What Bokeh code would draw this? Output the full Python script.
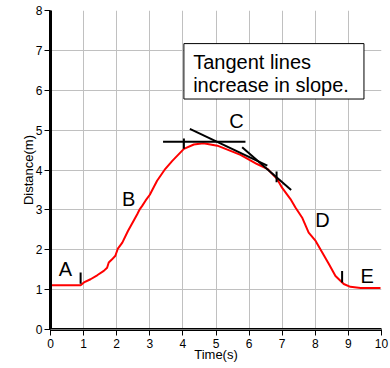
from bokeh.plotting import figure
from bokeh.models import FixedTicker, Range1d, Span, ColumnDataSource
from bokeh.core.properties import value
from bokeh.embed import file_html
from bokeh.resources import INLINE

# ---- data ----
time_s = [0, 0.91, 1.01, 1.21, 1.41, 1.61, 1.71, 1.76, 1.86, 1.96, 2.03, 2.17,
          2.34, 2.52, 2.62, 2.70, 2.77, 2.87, 3.0, 3.22, 3.47, 3.68, 4.03, 4.33,
          4.62, 5.04, 5.44, 5.74, 6.24, 6.55, 6.85, 7.0, 7.25, 7.40, 7.60, 7.80,
          8.01, 8.21, 8.41, 8.61, 8.86, 9.06, 9.37, 9.97]
distance_m = [1.11, 1.11, 1.18, 1.26, 1.36, 1.47, 1.55, 1.68, 1.76, 1.85, 2.02, 2.18,
              2.47, 2.74, 2.89, 3.02, 3.10, 3.23, 3.38, 3.73, 4.03, 4.23, 4.53, 4.64,
              4.67, 4.61, 4.48, 4.38, 4.15, 4.03, 3.77, 3.55, 3.27, 3.06, 2.81, 2.43,
              2.22, 1.93, 1.64, 1.34, 1.14, 1.07, 1.04, 1.04]

x_ticks = list(range(0, 11))
y_ticks = list(range(0, 9))

tangent_x0 = [3.40, 4.21, 5.79]
tangent_y0 = [4.71, 5.03, 4.57]
tangent_x1 = [5.89, 6.55, 7.27]
tangent_y1 = [4.71, 4.11, 3.50]

marker_x = [0.91, 4.03, 6.83, 8.81]
marker_y0 = [1.15, 4.53, 3.69, 1.18]
marker_y1 = [1.43, 4.79, 3.96, 1.47]

letter_labels = ["A", "B", "C", "D", "E"]
letter_x = [0.45, 2.36, 5.62, 8.22, 9.57]
letter_y = [1.36, 3.13, 5.07, 2.60, 1.19]

note_lines = ["Tangent lines", "increase in slope."]
note_x = [4.31, 4.31]
note_y = [6.54, 5.95]
note_box = dict(left=[4.03], right=[9.47], top=[7.17], bottom=[5.78])

# ---- figure ----
p = figure(width=390, height=368, x_range=Range1d(0, 10), y_range=Range1d(0, 8),
           output_backend="svg", toolbar_location=None,
           min_border_left=50, min_border_right=9, min_border_top=10, min_border_bottom=39)
p.outline_line_color = None
p.background_fill_color = "white"
p.border_fill_color = "white"

for g in (p.xgrid, p.ygrid):
    g.grid_line_color = "#c0c0c0"
    g.grid_line_width = 1
p.xgrid.ticker = FixedTicker(ticks=x_ticks)
p.ygrid.ticker = FixedTicker(ticks=y_ticks)

p.xaxis.ticker = FixedTicker(ticks=x_ticks)
p.yaxis.ticker = FixedTicker(ticks=y_ticks)
for ax in (p.xaxis, p.yaxis):
    ax.axis_line_color = "black"
    ax.major_tick_line_color = "black"
    ax.major_tick_line_width = 1
    ax.major_tick_in = 0
    ax.major_tick_out = 6
    ax.minor_tick_line_color = None
    ax.major_label_text_font = "Liberation Sans"
    ax.major_label_text_font_size = "12px"
    ax.major_label_text_color = "black"
    ax.axis_label_text_font = "Liberation Sans"
    ax.axis_label_text_font_size = "13px"
    ax.axis_label_text_font_style = "normal"
    ax.axis_label_text_color = "black"
p.yaxis.axis_line_width = 3
p.xaxis.axis_line_width = 3
p.xaxis.axis_label = "Time(s)"
p.yaxis.axis_label = "Distance(m)"
p.xaxis.major_label_standoff = 3
p.yaxis.major_label_standoff = 2
p.xaxis.axis_label_standoff = -4
p.yaxis.axis_label_standoff = -3

p.add_layout(Span(location=0, dimension="width", line_color="#e8e8e8", line_width=1))

# note box
p.quad(source=ColumnDataSource(note_box), left="left", right="right", top="top", bottom="bottom",
       fill_color="white", line_color="black", line_width=1)
p.text(x=note_x, y=note_y, text=note_lines, text_font=value("Liberation Sans"),
       text_font_size="20px", text_color="black", text_baseline="alphabetic", text_align="left",
       y_offset=-7)

# curve
p.line(time_s, distance_m, line_color="#ff0000", line_width=2)

# tangent lines and markers
p.segment(x0=tangent_x0, y0=tangent_y0, x1=tangent_x1, y1=tangent_y1,
          line_color="black", line_width=2)
p.segment(x0=marker_x, y0=marker_y0, x1=marker_x, y1=marker_y1,
          line_color="black", line_width=2)

# letters
p.text(x=letter_x, y=letter_y, text=letter_labels, text_font=value("Liberation Sans"),
       text_font_size="20px", text_color="black", text_align="center", text_baseline="alphabetic",
       y_offset=-6)

open("out.html", "w").write(file_html(p, INLINE))
